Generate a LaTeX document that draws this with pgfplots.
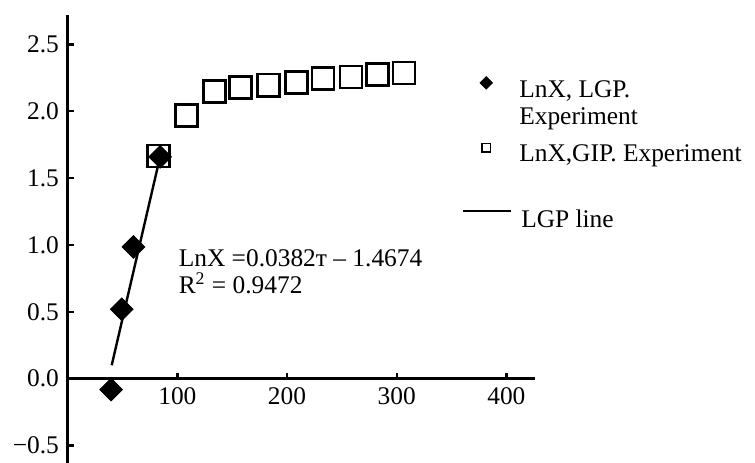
\documentclass[border=0pt]{standalone}
\usepackage{fontspec}
\setmainfont{Liberation Serif}
\usepackage{pgfplots}
\pgfplotsset{compat=1.18}
\usetikzlibrary{calc}
\pgfplotsset{
  legaxis/.style={scale only axis, width=233.45pt, height=223.8pt,
    xmin=0, xmax=1, ymin=0, ymax=1, hide axis,
    legend cell align=left,
    legend style={draw=none, fill=none, inner sep=0pt, outer sep=0pt,
      anchor=north west, column sep=4.5pt,
      nodes={inner sep=0pt, outer sep=0pt}}},
}
\begin{document}
\fontsize{12.7}{13.5}\selectfont
\begin{tikzpicture}
\begin{axis}[
  scale only axis,
  width=233.45pt, height=223.8pt,
  xmin=0, xmax=426, ymin=-0.63, ymax=2.72,
  enlargelimits=false,
  axis x line=middle, axis y line=left,
  axis line style={-, line width=1.3pt, black},
  hide obscured y ticks=false,
  xtick={100,200,300,400}, xticklabels={100,200,300,400},
  ytick={-0.5,0,0.5,1,1.5,2,2.5},
  yticklabels={−0.5,0.0,0.5,1.0,1.5,2.0,2.5},
  tick align=inside,
  major tick length=3pt,
  tick style={line width=1.2pt, black},
  clip=false,
]
\addplot[only marks, black, mark=square*, mark size=4.0pt,
  mark options={rotate=45, fill=black, draw=black}]
  coordinates {(39.5,-0.082) (49.3,0.519) (59.9,0.985) (84.2,1.659)};
\addplot[only marks, black, mark=square, mark size=5.5pt,
  mark options={line width=1.3pt, draw=black}]
  coordinates {(82.7,1.664) (108.2,1.968) (133.8,2.148) (157.5,2.178) (183.0,2.195)
               (208.6,2.215) (232.7,2.243) (258.2,2.257) (282.5,2.275) (306.8,2.287)};
\addplot[black, line width=1.2pt, mark=none]
  coordinates {(40.1,0.10) (84.2,1.659)};
\node[anchor=base west, inner sep=0pt] at (axis cs:100.9,0.8406) {LnX =0.0382т – 1.4674};
\node[anchor=base west, inner sep=0pt] at (axis cs:100.9,0.636) {R\textsuperscript{2} = 0.9472};
\coordinate (bl) at (axis cs:0,-0.63);
\coordinate (tr) at (axis cs:426,2.72);
\end{axis}
% legend entry 1
\begin{axis}[legaxis, legend style={at={(0.8445,0.8624)}}]
\addlegendimage{legend image code/.code={\path[draw=none,fill=none] (0pt,3.5pt) -- (24pt,3.5pt);\draw[only marks, mark=square*, mark size=2.2pt, mark options={rotate=45, fill=black, draw=black}] plot coordinates {(12pt,3.5pt)};}}
\addlegendentry{\parbox[t]{62pt}{\rule{0pt}{10pt}LnX, LGP.\\Experiment}}
\end{axis}
% legend entry 2
\begin{axis}[legaxis, legend style={at={(0.8445,0.7171)}}]
\addlegendimage{legend image code/.code={\path[draw=none,fill=none] (0pt,3pt) -- (24pt,3pt);\draw[only marks, mark=square, mark size=2.1pt, mark options={line width=0.8pt, draw=black}] plot coordinates {(12pt,3pt)};}}
\addlegendentry{\rule{0pt}{10pt}LnX,GIP. Experiment}
\end{axis}
% legend entry 3
\begin{axis}[legaxis, legend style={at={(0.8445,0.5697)}}]
\addlegendimage{legend image code/.code={\draw[black, line width=1pt] (0pt,4.5pt) -- (24pt,4.5pt);}}
\addlegendentry{\rule{0pt}{10pt}LGP line}
\end{axis}
\pgfresetboundingbox
\path ($(bl)+(-33.85pt,0)$) rectangle ($(tr)+(110pt,7.5pt)$);
\end{tikzpicture}
\end{document}
